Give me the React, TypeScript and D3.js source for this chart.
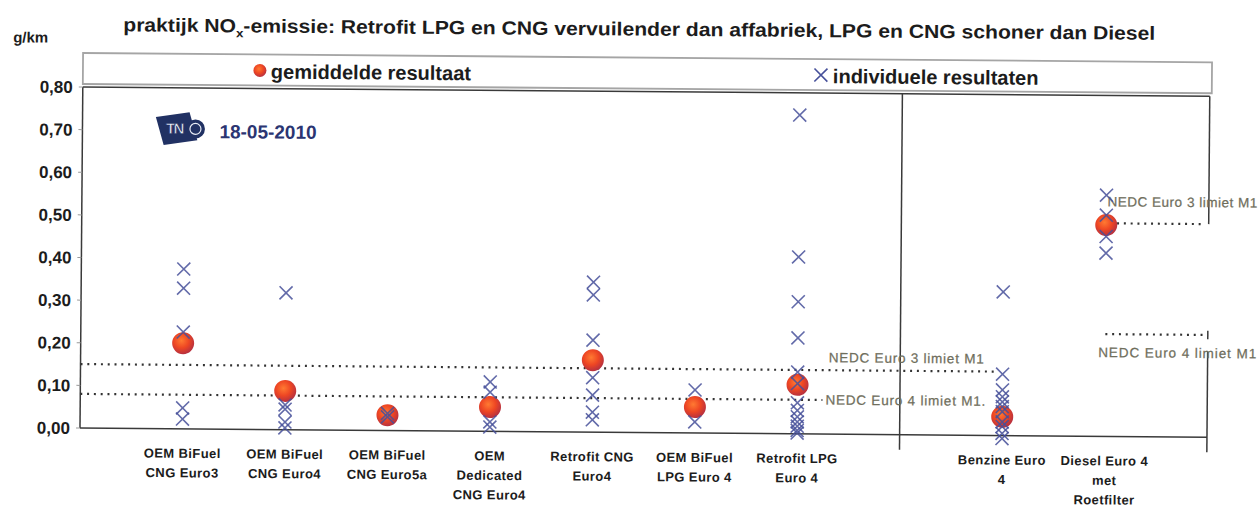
import React from "react";
import * as d3 from "d3";

// ---------- data ----------
const categoryLabels: string[][] = [
  ["OEM BiFuel", "CNG Euro3"],
  ["OEM BiFuel", "CNG Euro4"],
  ["OEM BiFuel", "CNG Euro5a"],
  ["OEM", "Dedicated", "CNG Euro4"],
  ["Retrofit CNG", "Euro4"],
  ["OEM BiFuel", "LPG Euro 4"],
  ["Retrofit LPG", "Euro 4"],
  ["Benzine Euro", "4"],
  ["Diesel Euro 4", "met", "Roetfilter"],
];
const leftCount = 7; // categories in the left panel, rest in the right panel

const meanValues: number[] = [0.201, 0.091, 0.036, 0.057, 0.169, 0.061, 0.115, 0.044, 0.496];

const individualValues: number[][] = [
  [0.375, 0.33, 0.227, 0.049, 0.023],
  [0.321, 0.058, 0.048, 0.018, 0.004],
  [0.04, 0.032],
  [0.116, 0.092, 0.022, 0.01],
  [0.352, 0.322, 0.216, 0.128, 0.087, 0.047, 0.029],
  [0.101, 0.026],
  [0.748, 0.415, 0.31, 0.225, 0.145, 0.118, 0.073, 0.055, 0.04, 0.028, 0.018, 0.008, 0.002],
  [0.337, 0.144, 0.107, 0.091, 0.079, 0.068, 0.056, 0.032, 0.021, 0.005, -0.007],
  [0.566, 0.519, 0.469, 0.43],
];

const yTicks: number[] = [0, 0.1, 0.2, 0.3, 0.4, 0.5, 0.6, 0.7, 0.8];

const limitNames: string[] = [
  "NEDC Euro 3 limiet M1",
  "NEDC Euro 4 limiet  M1.",
  "NEDC Euro 3 limiet M1",
  "NEDC Euro 4 limiet  M1",
];
const limitValues: number[] = [0.15, 0.08, 0.5, 0.24];

const titleParts = ["praktijk NO", "x", "-emissie: Retrofit LPG en CNG vervuilender dan affabriek, LPG en CNG schoner dan Diesel"];
const unitLabel = "g/km";
const legendMean = "gemiddelde resultaat";
const legendIndividual = "individuele resultaten";
const dateLabel = "18-05-2010";

// ---------- layout ----------
const W = 1258;
const H = 508;
const FONT = "'Liberation Sans', Arial, Helvetica, sans-serif";
const CROSS = "#46509a";
const TEXT = "#1c1c1c";
const LIMIT_TEXT = "#6f6e5c";
const NAVY = "#213163";

export default function App() {
  const catKeys = categoryLabels.map((l) => l.join(" "));
  const slots = ["_start", ...catKeys.slice(0, leftCount), "_divider", ...catKeys.slice(leftCount), "_end"];
  const x = d3.scalePoint<string>().domain(slots).range([80, 1207]);
  const y = d3.scaleLinear().domain([0, 0.8]).range([428, 87]);
  const X = (k: string) => x(k) as number;

  const left = X("_start");
  const divider = X("_divider");
  const right = X("_end");
  const top = y(0.8);
  const base = y(0);
  const fmt = (v: number) => d3.format(".2f")(v).replace(".", ",");
  const cross = (cx: number, cy: number, s = 6.5) =>
    `M${cx - s},${cy - s}L${cx + s},${cy + s}M${cx - s},${cy + s}L${cx + s},${cy - s}`;

  const benzX = X(catKeys[7]);
  const dieselX = X(catKeys[8]);
  const lprX = X(catKeys[6]);

  const limitGeom = [
    { x1: left, x2: benzX - 5, lx: lprX + 31, dy: -8, len: 155 },
    { x1: left, x2: lprX + 25, lx: lprX + 28, dy: 4.5, len: 160 },
    { x1: dieselX + 4, x2: right - 4, lx: dieselX + 1, dy: -17, len: 150 },
    { x1: dieselX, x2: right - 4, lx: dieselX - 7, dy: 23, len: 158 },
  ];

  return (
    <svg
      width={W}
      height={H}
      style={{ position: "absolute", left: 0, top: 0, background: "#fff" }}
      fontFamily={FONT}
    >
      <defs>
        <radialGradient id="meanGrad" cx="42%" cy="38%" r="62%">
          <stop offset="0%" stopColor="#ff7a32" />
          <stop offset="55%" stopColor="#ee4623" />
          <stop offset="100%" stopColor="#b8313f" />
        </radialGradient>
      </defs>
      <rect width={W} height={H} fill="#fff" />
      <g transform={`rotate(0.47, ${left}, ${base})`}>
        {/* title */}
        <text x={120} y={31} fontSize={19} fontWeight="bold" fill={TEXT} textLength={1032} lengthAdjust="spacingAndGlyphs">
          {titleParts[0]}
          <tspan fontSize={12} dy={5}>{titleParts[1]}</tspan>
          <tspan dy={-5}>{titleParts[2]}</tspan>
        </text>
        <text x={10} y={43} fontSize={15} fontWeight="bold" fill={TEXT}>{unitLabel}</text>

        {/* legend */}
        <rect x={left} y={53} width={right + 2 - left} height={31} fill="#fff" stroke="#a5a5a5" strokeWidth={1.8} />
        <circle cx={257} cy={69} r={6.5} fill="url(#meanGrad)" />
        <text x={268} y={77} fontSize={20} fontWeight="bold" fill={TEXT}>{legendMean}</text>
        <path d={cross(818, 69, 6.5)} stroke={CROSS} strokeWidth={1.6} fill="none" />
        <text x={830} y={77} fontSize={20} fontWeight="bold" fill={TEXT}>{legendIndividual}</text>

        {/* plot frame */}
        <g stroke="#3a3a3a" strokeWidth={1.5} fill="none">
          <line x1={left} y1={top} x2={left} y2={base} />
          <line x1={left} y1={top} x2={right} y2={top} />
          <line x1={left} y1={base} x2={right} y2={base} />
          <line x1={divider} y1={top} x2={divider} y2={y(-0.035)} />
          <line x1={right} y1={top} x2={right} y2={y(0.5)} />
          <line x1={right} y1={y(0.25)} x2={right} y2={y(0.23)} />
          <line x1={right} y1={y(0.2)} x2={right} y2={y(-0.035)} />
        </g>

        {/* y axis */}
        {yTicks.map((t) => (
          <g key={t}>
            <line x1={left - 4} x2={left} y1={y(t)} y2={y(t)} stroke="#999" strokeWidth={1} />
            <text x={70} y={y(t)} dy="0.35em" textAnchor="end" fontSize={17} fontWeight="bold" fill={TEXT}>
              {fmt(t)}
            </text>
          </g>
        ))}

        {/* TNO logo + date */}
        <g transform="translate(176,127) rotate(-12)">
          <path d="M-20,-15 L14,-13 L16,16 L-18,14 Z" fill={NAVY} />
        </g>
        <circle cx={193} cy={128} r={9.5} fill={NAVY} />
        <text x={172} y={133} textAnchor="middle" fontSize={15} fontWeight="bold" fill="#e8ecf5" stroke={NAVY} strokeWidth={0.6} letterSpacing={-1.5}>
          TN
        </text>
        <circle cx={193} cy={128} r={5.5} fill="none" stroke="#e8ecf5" strokeWidth={1.2} />
        <text x={217} y={137} fontSize={19} fontWeight="bold" fill="#2b3572">{dateLabel}</text>

        {/* limit lines */}
        {limitValues.map((v, i) => {
          const g = limitGeom[i];
          return (
            <g key={i}>
              <line x1={g.x1} x2={g.x2} y1={y(v)} y2={y(v)} stroke="#333" strokeWidth={2.2} strokeDasharray="2,4.8" />
              <text
                x={g.lx}
                y={y(v) + g.dy}
                fontSize={13.5}
                fill={LIMIT_TEXT}
                stroke={LIMIT_TEXT}
                strokeWidth={0.25}
                textLength={g.len}
                lengthAdjust="spacing"
              >
                {limitNames[i]}
              </text>
            </g>
          );
        })}

        {/* means */}
        {meanValues.map((v, i) => (
          <circle key={i} cx={X(catKeys[i])} cy={y(v)} r={11} fill="url(#meanGrad)" />
        ))}

        {/* individual results */}
        {individualValues.map((vals, i) =>
          vals.map((v, j) => (
            <path key={`${i}-${j}`} d={cross(X(catKeys[i]), y(v))} stroke={CROSS} strokeWidth={1.6} fill="none" strokeOpacity={0.85} />
          ))
        )}

        {/* category labels */}
        {categoryLabels.map((lines, i) => (
          <text key={i} x={X(catKeys[i])} y={457} textAnchor="middle" fontSize={13} fontWeight="bold" fill={TEXT} letterSpacing={0.4}>
            {lines.map((ln, k) => (
              <tspan key={k} x={X(catKeys[i])} dy={k === 0 ? 0 : 19.5}>
                {ln}
              </tspan>
            ))}
          </text>
        ))}
      </g>
    </svg>
  );
}
